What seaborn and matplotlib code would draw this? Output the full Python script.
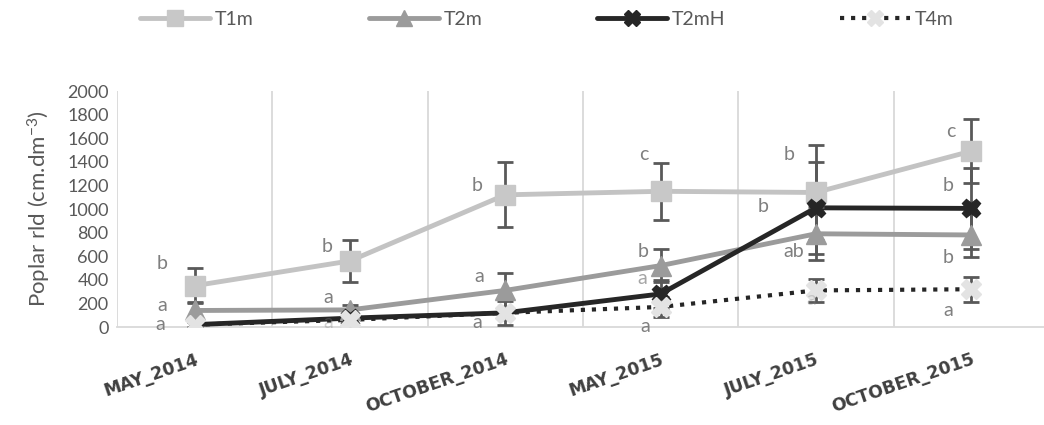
import matplotlib
matplotlib.use("Agg")
import matplotlib.pyplot as plt
from matplotlib.lines import Line2D
import seaborn as sns
import pandas as pd
import numpy as np

# Sampling dates
dates = ["MAY_2014", "JULY_2014", "OCTOBER_2014", "MAY_2015", "JULY_2015", "OCTOBER_2015"]

# Mean poplar root length density (cm.dm-3) per treatment
t1m = [350, 560, 1120, 1150, 1140, 1490]
t2m = [140, 145, 310, 520, 790, 780]
t2mh = [20, 75, 120, 280, 1010, 1005]
t4m = [20, 60, 120, 170, 310, 320]

# Error bar half-widths
t1m_err = [150, 180, 275, 240, 400, 272]
t2m_err = [70, 40, 150, 140, 225, 187]
t2mh_err = [30, 40, 100, 120, 390, 340]
t4m_err = [20, 30, 40, 85, 98, 106]

# Statistical group letters
t1m_letters = ["b", "b", "b", "c", "b", "c"]
t2m_letters = ["a", "a", "a", "b", "ab", "b"]
t2mh_letters = ["", "", "", "a", "b", "b"]
t4m_letters = ["a", "a", "a", "a", "a", "a"]

series = ["T1m", "T2m", "T2mH", "T4m"]
values = {"T1m": t1m, "T2m": t2m, "T2mH": t2mh, "T4m": t4m}
errors = {"T1m": t1m_err, "T2m": t2m_err, "T2mH": t2mh_err, "T4m": t4m_err}
letters = {"T1m": t1m_letters, "T2m": t2m_letters, "T2mH": t2mh_letters, "T4m": t4m_letters}

styles = {
    "T1m": dict(color="#c3c3c3", marker="s", ms=14, mfc="#c8c8c8", mec="#c8c8c8", ls="-", lw=3.5),
    "T2m": dict(color="#9b9b9b", marker="^", ms=14, mfc="#9b9b9b", mec="#9b9b9b", ls="-", lw=3.5),
    "T2mH": dict(color="#262626", marker="X", ms=13, mfc="#262626", mec="#262626", ls="-", lw=3.5),
    "T4m": dict(color="#262626", marker="X", ms=14, mfc="#e3e3e3", mec="#e3e3e3", ls=":", lw=3),
}

# Letter placement: (dx in category units, dy in data units) from each point
letter_offsets = {
    "T1m": [(-0.21, 190), (-0.15, 126), (-0.18, 75), (-0.11, 308), (-0.17, 318), (-0.13, 163)],
    "T2m": [(-0.21, 40), (-0.14, 109), (-0.17, 114), (-0.11, 116), (-0.14, -154), (-0.15, -187)],
    "T2mH": [(0, 0), (0, 0), (0, 0), (-0.12, 135), (-0.34, 15), (-0.15, 190)],
    "T4m": [(-0.22, 5), (-0.14, -20), (-0.18, -86), (-0.10, -170), (-0.03, -81), (-0.15, -184)],
}
letter_alpha = {
    "T1m": [1, 1, 1, 1, 1, 1],
    "T2m": [1, 1, 1, 1, 1, 1],
    "T2mH": [1, 1, 1, 0.7, 1, 1],
    "T4m": [1, 0.35, 1, 1, 0.3, 1],
}

rows = []
for s in series:
    for i, d in enumerate(dates):
        rows.append({"date": d, "pos": i, "treatment": s, "rld": values[s][i], "err": errors[s][i]})
df = pd.DataFrame(rows)

sns.set_theme(style="white")
plt.rcParams["font.family"] = ["Lato", "DejaVu Sans"]
plt.rcParams["axes.unicode_minus"] = False
plt.rcParams["mathtext.fontset"] = "custom"
plt.rcParams["mathtext.rm"] = "Lato"
plt.rcParams["mathtext.default"] = "regular"

fig = plt.figure(figsize=(10.44, 4.25), dpi=100)
ax = fig.add_axes([117 / 1044, 1 - 327 / 425, 1 - 117 / 1044, (327 - 91) / 425])

for k, s in enumerate(series):
    st = styles[s]
    sub = df[df["treatment"] == s]
    sns.lineplot(data=sub, x="pos", y="rld", ax=ax, color=st["color"], lw=st["lw"],
                 linestyle=st["ls"], marker=None, legend=False, zorder=2 + k)

for k, s in enumerate(series):
    sub = df[df["treatment"] == s]
    ax.errorbar(sub["pos"], sub["rld"], yerr=sub["err"], fmt="none", ecolor="#595959",
                elinewidth=2, capsize=6, capthick=2, zorder=7)

for k, s in enumerate(series):
    st = styles[s]
    sub = df[df["treatment"] == s]
    ax.plot(sub["pos"], sub["rld"], ls="none", marker=st["marker"], ms=st["ms"],
            mfc=st["mfc"], mec=st["mec"], mew=1, zorder=8 + k)

for s in series:
    for i in range(len(dates)):
        lt = letters[s][i]
        if not lt:
            continue
        dx, dy = letter_offsets[s][i]
        ax.text(i + dx, values[s][i] + dy, lt, ha="center", va="center", fontsize=14,
                color="#7f7f7f", alpha=letter_alpha[s][i], zorder=12)

ax.set_xlim(-0.5, -0.5 + (1044 - 117) / 155.3)
ax.set_ylim(0, 2000)
ax.set_yticks(np.arange(0, 2001, 200))
ax.set_yticklabels([str(v) for v in range(0, 2001, 200)], fontsize=13, color="#595959")
ax.set_xticks(range(len(dates)))
ax.set_xticklabels(dates, rotation=19, ha="right", va="top", rotation_mode="anchor",
                   fontsize=12.5, fontweight="bold", color="#404040", family="DejaVu Sans")
ax.tick_params(axis="x", pad=17, length=0)
ax.tick_params(axis="y", pad=6, length=0)
ax.set_xlabel("")
ax.set_ylabel("Poplar rld (cm.dm$^{-3}$)", fontsize=16, color="#595959", labelpad=10)

for b in np.arange(-0.5, 5.5, 1.0):
    ax.axvline(b, color="#d9d9d9", lw=1.3, zorder=0)
for side in ["top", "right", "left"]:
    ax.spines[side].set_visible(False)
ax.spines["bottom"].set_color("#d9d9d9")
ax.spines["bottom"].set_linewidth(1.3)

handles = []
for s in series:
    st = styles[s]
    handles.append(Line2D([0], [0], color=st["color"], lw=st["lw"], ls=st["ls"], marker=st["marker"],
                          ms=st["ms"] * 0.85, mfc=st["mfc"], mec=st["mec"]))
fig.legend(handles, series, loc="center", bbox_to_anchor=(0.524, 0.955), ncol=4, frameon=False,
           handlelength=3.6, columnspacing=5.9, handletextpad=0.25,
           prop={"size": 14}, labelcolor="#595959")

fig.savefig("out.png", dpi=100)
